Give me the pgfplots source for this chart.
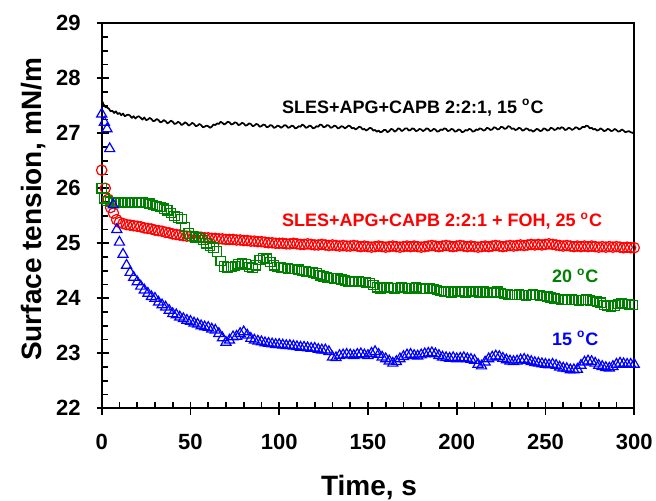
\documentclass[border=0pt]{standalone}
\usepackage{pgfplots}
\pgfplotsset{compat=1.18}
\usepackage{fontspec}
\setmainfont{Liberation Sans}
\definecolor{cred}{RGB}{255,0,0}
\definecolor{cgreen}{RGB}{0,128,0}
\definecolor{cblue}{RGB}{0,0,255}
\begin{document}
\begin{tikzpicture}
\begin{axis}[
  scale only axis, width=266.25pt, height=192.5pt,
  at={(0,0)}, anchor=south west,
  xmin=0, xmax=300, ymin=22, ymax=29,
  xtick={0,50,...,300}, minor x tick num=4,
  ytick={22,23,...,29}, minor y tick num=3,
  tick pos=left,
  tick align=inside,
  major tick length=6.25pt, minor tick length=3pt,
  every major x tick/.append style={yshift=-3.25pt},
  every major y tick/.append style={xshift=-2.5pt},
  axis line style={line width=0.9pt},
  every tick/.append style={line width=0.9pt, black},
  /pgf/number format/assume math mode=true,
  ticklabel style={font=\fontsize{11}{12}\selectfont\bfseries},
  xticklabel style={inner sep=0pt, anchor=north, yshift=-12.8pt},
  yticklabel style={inner sep=0pt, anchor=east, xshift=-10.3pt},
  xlabel={Time, s}, ylabel={Surface tension, mN/m},
  label style={font=\fontsize{14}{16}\selectfont\bfseries},
  xlabel style={at={(axis description cs:0.502,-0.2252)}, anchor=base},
  ylabel style={at={(axis description cs:-0.1127,0.517)}, anchor=base, rotate=0},
  clip=false,
]
% black line
\addplot[black, line width=0.85pt, mark=none, line join=round] table {
0 27.60
1 27.53
2 27.48
3 27.47
4 27.45
5 27.40
6 27.41
7 27.37
8 27.40
9 27.35
10 27.37
11 27.33
12 27.36
13 27.31
14 27.33
15 27.34
16 27.32
17 27.28
18 27.31
19 27.27
20 27.30
21 27.31
22 27.28
23 27.25
24 27.29
25 27.24
26 27.25
27 27.28
28 27.26
29 27.22
30 27.23
31 27.26
32 27.24
33 27.20
34 27.21
35 27.24
36 27.22
37 27.18
38 27.20
39 27.23
40 27.21
41 27.17
42 27.18
43 27.21
44 27.19
45 27.15
46 27.17
47 27.20
48 27.18
49 27.14
50 27.16
51 27.19
52 27.17
53 27.13
54 27.14
55 27.17
56 27.15
57 27.11
58 27.12
59 27.14
60 27.13
61 27.10
62 27.12
63 27.16
64 27.15
65 27.18
66 27.17
67 27.21
68 27.19
69 27.16
70 27.18
71 27.21
72 27.20
73 27.16
74 27.17
75 27.20
76 27.19
77 27.15
78 27.16
79 27.19
80 27.18
81 27.14
82 27.15
83 27.18
84 27.17
85 27.13
86 27.14
87 27.17
88 27.16
89 27.12
90 27.13
91 27.16
92 27.15
93 27.11
94 27.12
95 27.15
96 27.14
97 27.10
98 27.11
99 27.14
100 27.13
101 27.10
102 27.12
103 27.15
104 27.14
105 27.10
106 27.11
107 27.14
108 27.13
109 27.09
110 27.10
111 27.13
112 27.12
113 27.16
114 27.14
115 27.10
116 27.11
117 27.14
118 27.13
119 27.09
120 27.10
121 27.13
122 27.12
123 27.16
124 27.15
125 27.11
126 27.12
127 27.15
128 27.14
129 27.10
130 27.11
131 27.14
132 27.13
133 27.09
134 27.10
135 27.13
136 27.12
137 27.09
138 27.11
139 27.14
140 27.13
141 27.09
142 27.10
143 27.07
144 27.09
145 27.12
146 27.11
147 27.07
148 27.08
149 27.05
150 27.07
151 27.10
152 27.09
153 27.05
154 27.06
155 27.03
156 27.05
157 27.02
158 27.03
159 27.06
160 27.06
161 27.02
162 27.04
163 27.08
164 27.07
165 27.03
166 27.05
167 27.09
168 27.08
169 27.04
170 27.06
171 27.09
172 27.09
173 27.05
174 27.06
175 27.09
176 27.08
177 27.04
178 27.05
179 27.08
180 27.07
181 27.04
182 27.06
183 27.09
184 27.08
185 27.04
186 27.05
187 27.08
188 27.07
189 27.03
190 27.04
191 27.07
192 27.06
193 27.09
194 27.08
195 27.04
196 27.05
197 27.08
198 27.07
199 27.03
200 27.04
201 27.07
202 27.06
203 27.02
204 27.03
205 27.06
206 27.05
207 27.08
208 27.07
209 27.03
210 27.04
211 27.07
212 27.06
213 27.09
214 27.08
215 27.05
216 27.06
217 27.10
218 27.09
219 27.06
220 27.07
221 27.11
222 27.10
223 27.07
224 27.08
225 27.12
226 27.11
227 27.08
228 27.09
229 27.13
230 27.12
231 27.08
232 27.09
233 27.06
234 27.07
235 27.10
236 27.09
237 27.05
238 27.06
239 27.09
240 27.08
241 27.05
242 27.06
243 27.03
244 27.05
245 27.08
246 27.07
247 27.04
248 27.05
249 27.09
250 27.08
251 27.05
252 27.06
253 27.10
254 27.09
255 27.06
256 27.07
257 27.10
258 27.08
259 27.11
260 27.10
261 27.06
262 27.07
263 27.10
264 27.09
265 27.06
266 27.08
267 27.11
268 27.10
269 27.07
270 27.09
271 27.12
272 27.11
273 27.14
274 27.13
275 27.09
276 27.10
277 27.07
278 27.08
279 27.05
280 27.06
281 27.09
282 27.07
283 27.04
284 27.05
285 27.08
286 27.07
287 27.04
288 27.05
289 27.08
290 27.06
291 27.03
292 27.04
293 27.07
294 27.05
295 27.02
296 27.03
297 27.04
298 27.02
299 27.01
300 27.00
};
% red circles
\addplot[only marks, mark=o, mark size=2.6pt, cred, mark options={line width=0.6pt}] table {
0 26.33
2 26.00
3.7 25.80
5 25.65
6.6 25.55
8.4 25.43
10 25.38
12 25.36
14 25.34
16 25.33
18 25.32
20 25.31
22 25.30
24 25.28
26 25.27
28 25.26
30 25.24
32 25.23
34 25.22
36 25.20
38 25.19
40 25.17
42 25.16
44 25.15
46 25.14
48 25.13
50 25.13
52 25.12
54 25.12
56 25.11
58 25.10
60 25.10
62 25.09
64 25.09
66 25.08
68 25.08
70 25.07
72 25.07
74 25.07
76 25.06
78 25.06
80 25.05
82 25.05
84 25.04
86 25.04
88 25.03
90 25.03
92 25.02
94 25.01
96 25.01
98 25.00
100 25.00
102 25.00
104 24.99
106 24.99
108 25.00
110 24.99
112 24.98
114 24.98
116 24.99
118 24.98
120 24.97
122 24.97
124 24.98
126 24.97
128 24.96
130 24.97
132 24.96
134 24.95
136 24.96
138 24.95
140 24.95
142 24.96
144 24.95
146 24.94
148 24.95
150 24.94
152 24.93
154 24.94
156 24.95
158 24.94
160 24.93
162 24.94
164 24.95
166 24.94
168 24.93
170 24.94
172 24.95
174 24.94
176 24.95
178 24.94
180 24.93
182 24.94
184 24.95
186 24.96
188 24.95
190 24.94
192 24.95
194 24.96
196 24.95
198 24.94
200 24.95
202 24.96
204 24.95
206 24.94
208 24.95
210 24.94
212 24.93
214 24.94
216 24.95
218 24.94
220 24.95
222 24.96
224 24.95
226 24.94
228 24.95
230 24.96
232 24.95
234 24.96
236 24.97
238 24.96
240 24.97
242 24.98
244 24.97
246 24.98
248 24.97
250 24.98
252 24.99
254 24.98
256 24.97
258 24.96
260 24.95
262 24.96
264 24.95
266 24.94
268 24.95
270 24.94
272 24.95
274 24.94
276 24.95
278 24.94
280 24.93
282 24.94
284 24.93
286 24.94
288 24.93
290 24.94
292 24.93
294 24.92
296 24.93
298 24.92
300 24.92
};
% green squares
\addplot[only marks, mark=square, mark size=2.35pt, cgreen, mark options={line width=0.6pt}] table {
0 26.00
1.5 25.82
3 25.77
5 25.75
7 25.74
9 25.75
11 25.74
13 25.75
15 25.74
17 25.75
19 25.74
21 25.75
23 25.74
25 25.73
27 25.72
29 25.70
31 25.68
33 25.66
35 25.63
37 25.60
39 25.55
41 25.50
43 25.47
45 25.44
47 25.30
49 25.18
51 25.13
53 25.11
55 25.10
57 25.06
59 25.00
61 24.95
63 24.92
65 24.85
67 24.68
69 24.58
71 24.56
73 24.57
75 24.59
77 24.62
79 24.64
81 24.62
83 24.57
85 24.55
87 24.60
89 24.70
91 24.73
93 24.72
95 24.66
97 24.60
99 24.57
101 24.56
103 24.55
105 24.54
107 24.53
109 24.53
111 24.52
113 24.50
115 24.49
117 24.48
119 24.47
121 24.45
123 24.42
125 24.40
127 24.38
129 24.37
131 24.36
133 24.36
135 24.34
137 24.32
139 24.31
141 24.30
143 24.30
145 24.31
147 24.30
149 24.29
151 24.28
153 24.24
155 24.20
157 24.18
159 24.19
161 24.20
163 24.19
165 24.18
167 24.19
169 24.20
171 24.19
173 24.18
175 24.19
177 24.20
179 24.18
181 24.17
183 24.18
185 24.19
187 24.17
189 24.15
191 24.13
193 24.12
195 24.12
197 24.11
199 24.12
201 24.13
203 24.12
205 24.11
207 24.12
209 24.13
211 24.12
213 24.11
215 24.12
217 24.11
219 24.10
221 24.11
223 24.12
225 24.10
227 24.08
229 24.07
231 24.06
233 24.06
235 24.07
237 24.06
239 24.05
241 24.06
243 24.07
245 24.06
247 24.05
249 24.04
251 24.03
253 24.02
255 24.00
257 23.99
259 23.98
261 23.97
263 23.97
265 23.98
267 23.97
269 23.96
271 23.97
273 23.98
275 23.96
277 23.95
279 23.94
281 23.92
283 23.88
285 23.86
287 23.85
289 23.87
291 23.90
293 23.91
295 23.90
297 23.89
299 23.88
};
% blue triangles
\addplot[only marks, mark=triangle, mark size=2.9pt, cblue, mark options={line width=0.6pt}] table {
0 27.35
1.5 27.20
3 27.08
4.5 26.72
6.5 25.70
8.5 25.25
10 25.02
12 24.80
14 24.60
16 24.47
18 24.38
20 24.30
22 24.22
24 24.15
26 24.09
28 24.03
30 24.00
32 23.93
34 23.88
36 23.84
38 23.78
40 23.72
42 23.70
44 23.66
46 23.63
48 23.60
50 23.58
52 23.55
54 23.53
56 23.50
58 23.48
60 23.47
62 23.44
64 23.42
66 23.36
68 23.28
70 23.20
72 23.24
74 23.30
76 23.31
78 23.36
80 23.39
82 23.33
84 23.27
86 23.24
88 23.22
90 23.21
92 23.19
94 23.18
96 23.17
98 23.16
100 23.16
102 23.15
104 23.14
106 23.14
108 23.13
110 23.12
112 23.11
114 23.11
116 23.10
118 23.09
120 23.09
122 23.07
124 23.06
126 23.06
128 23.03
130 22.93
132 22.92
134 22.96
136 22.97
138 22.98
140 22.97
142 22.96
144 22.98
146 22.99
148 22.97
150 22.96
152 23.00
154 23.03
156 22.98
158 22.93
160 22.90
162 22.86
164 22.82
166 22.85
168 22.90
170 22.94
172 22.97
174 22.98
176 22.96
178 22.95
180 22.97
182 22.99
184 23.00
186 23.01
188 22.99
190 22.96
192 22.93
194 22.92
196 22.91
198 22.92
200 22.90
202 22.91
204 22.92
206 22.90
208 22.89
210 22.87
212 22.80
214 22.77
216 22.84
218 22.90
220 22.93
222 22.95
224 22.94
226 22.91
228 22.88
230 22.86
232 22.85
234 22.86
236 22.88
238 22.89
240 22.87
242 22.85
244 22.83
246 22.82
248 22.81
250 22.80
252 22.79
254 22.80
256 22.78
258 22.75
260 22.73
262 22.72
264 22.70
266 22.70
268 22.71
270 22.78
272 22.84
274 22.86
276 22.85
278 22.82
280 22.78
282 22.76
284 22.74
286 22.73
288 22.76
290 22.80
292 22.82
294 22.81
296 22.80
298 22.80
300 22.80
};
\node[anchor=base west, inner sep=0pt, font=\fontsize{9}{10}\selectfont\bfseries, text=black] at (axis cs:101.4,27.36) {SLES+APG+CAPB 2:2:1, 15 \textsuperscript{o}C};
\node[anchor=base west, inner sep=0pt, font=\fontsize{9}{10}\selectfont\bfseries, text=cred] at (axis cs:101.4,25.30) {SLES+APG+CAPB 2:2:1 + FOH, 25 \textsuperscript{o}C};
\node[anchor=base west, inner sep=0pt, font=\fontsize{9}{10}\selectfont\bfseries, text=cgreen] at (axis cs:253.5,24.28) {20 \textsuperscript{o}C};
\node[anchor=base west, inner sep=0pt, font=\fontsize{9}{10}\selectfont\bfseries, text=cblue] at (axis cs:253.5,23.14) {15 \textsuperscript{o}C};
\end{axis}
\pgfresetboundingbox
\path[use as bounding box] (-50.85pt,-45.85pt) rectangle (277.15pt,204.15pt);
\end{tikzpicture}
\end{document}
